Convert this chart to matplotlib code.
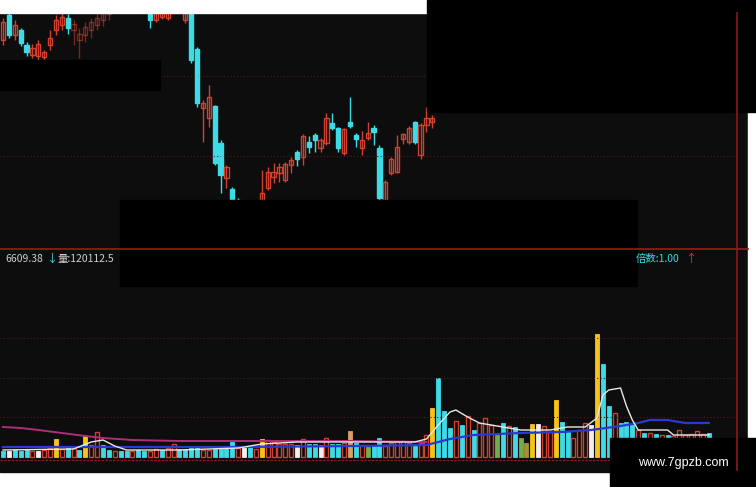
import matplotlib.pyplot as plt
from matplotlib.patches import Rectangle

# candles (price units), index = trading day
opens = [30.8, 33.3, 31.3, 31.8, 30.3, 29.3, 29.2, 29.1, 30.3, 31.8, 32.3, 33.0, 31.8, 30.8, 31.3, 31.8,
         32.3, 32.8, 33.4, 34.2, 34.8, 34.4, 35.0, 35.6, 34.8, 33.7, 32.8, 33.1, 33.0, 34.0, 34.9, 32.8,
         33.7, 29.9, 24.0, 23.0, 24.2, 20.5, 17.0, 15.9, 14.8, 13.0, 13.9, 12.8, 14.6, 16.0, 17.1, 17.5,
         16.8, 18.3, 19.6, 19.1, 20.6, 21.3, 20.0, 20.5, 22.5, 22.0, 19.5, 22.6, 21.3, 20.0, 21.0, 22.0,
         20.0, 14.8, 17.5, 17.6, 20.9, 20.6, 22.6, 19.3, 22.3, 22.6]
highs = [33.0, 33.5, 32.8, 32.0, 30.6, 30.4, 30.8, 29.8, 31.8, 33.3, 33.5, 33.4, 32.8, 32.0, 32.6, 33.0,
         33.4, 34.0, 34.4, 35.0, 35.2, 35.4, 35.8, 35.9, 35.3, 34.0, 34.0, 34.2, 34.3, 35.0, 35.1, 34.2,
         34.0, 30.1, 24.8, 26.3, 24.3, 20.8, 18.3, 16.1, 15.0, 14.2, 14.0, 14.6, 17.8, 18.1, 18.5, 18.5,
         18.6, 19.1, 19.8, 21.4, 21.2, 21.5, 21.0, 23.5, 23.5, 22.1, 22.0, 25.1, 21.5, 21.7, 22.6, 22.3,
         20.3, 16.8, 19.1, 21.3, 21.5, 22.2, 22.7, 22.5, 24.1, 23.3]
lows = [30.3, 31.0, 30.8, 30.2, 29.2, 29.0, 28.8, 28.8, 29.8, 31.3, 31.8, 31.4, 30.3, 29.0, 30.6, 31.0,
        31.8, 32.2, 32.8, 33.9, 34.2, 34.1, 34.8, 34.6, 34.5, 32.0, 32.6, 32.9, 32.8, 33.8, 33.7, 32.5,
        28.5, 24.1, 20.6, 22.1, 18.3, 15.5, 16.0, 14.5, 12.5, 12.6, 12.2, 12.4, 14.3, 15.8, 16.5, 16.6,
        16.6, 17.5, 18.2, 18.3, 19.5, 19.6, 19.6, 20.3, 21.8, 19.6, 19.3, 22.0, 20.1, 19.3, 20.8, 20.3,
        14.8, 14.7, 17.3, 17.5, 20.4, 20.4, 20.4, 18.9, 21.6, 22.0]
closes = [32.6, 31.3, 32.3, 30.5, 29.6, 30.0, 30.4, 29.6, 31.0, 32.8, 33.1, 32.0, 32.4, 31.4, 32.1, 32.6,
          33.0, 33.6, 34.0, 34.7, 34.4, 35.1, 35.5, 34.9, 35.0, 32.8, 33.8, 34.0, 33.9, 34.8, 33.9, 33.9,
          28.8, 24.5, 24.5, 25.1, 18.5, 17.3, 18.1, 14.9, 13.0, 13.8, 12.6, 14.3, 15.5, 17.6, 17.6, 18.1,
          18.4, 18.8, 18.9, 21.2, 20.1, 20.8, 20.8, 23.0, 22.0, 20.0, 21.9, 22.2, 20.9, 20.8, 21.5, 21.6,
          15.0, 16.6, 18.9, 20.1, 21.4, 22.0, 20.6, 22.3, 23.0, 23.0]

# volume (thousand lots) and bar colour code, ten days per row
volume = [6, 6, 7, 6, 7, 6, 6, 7, 9, 18,
          8, 10, 9, 7, 21, 12, 25, 12, 7, 6,
          6, 6, 6, 7, 6, 6, 8, 7, 9, 13,
          8, 8, 11, 11, 7, 7, 8, 8, 9, 15,
          9, 11, 10, 8, 18, 17, 15, 13, 13, 13,
          12, 18, 13, 13, 12, 19, 13, 13, 14, 26,
          14, 12, 10, 11, 19, 11, 14, 16, 16, 14,
          12, 14, 22, 49, 79, 46, 29, 36, 32, 41,
          27, 34, 39, 32, 22, 34, 31, 30, 19, 14,
          33, 33, 31, 25, 57, 35, 25, 19, 27, 34,
          32, 123, 93, 51, 44, 34, 35, 32, 27, 24,
          24, 23, 22, 22, 21, 27, 22, 23, 26, 23,
          24]
vol_kind = list("cwcccrwrrY" "rcrcYrrccr" "ccrccrrcrr" "ccccrrcccc" "rwcrYrrrrr"
                "wrccwrccrt" "crgccrrrrr" "crrYcccrcr" "crrrgcrcgo" "YwrrYccrrr"
                "wYccrcccrc" "rcrcrrrrrr" "c")

# volume moving averages (index, value)
ma5_idx = [0, 12, 15, 17, 19, 21, 30, 40, 44, 50, 60, 70, 72, 73, 74, 76, 77, 79, 81, 83, 85, 88, 93, 96,
           99, 101, 102, 103, 105, 106, 107, 108, 113, 114, 120]
ma5_val = [7, 8, 15, 17, 11, 7, 7, 9, 13, 15, 15, 15, 18, 25, 32, 45, 47, 40, 34, 32, 30, 27, 27, 30,
           30, 39, 62, 67, 69, 51, 37, 27, 27, 22, 22]
ma10_idx = [0, 20, 40, 60, 72, 76, 80, 88, 95, 100, 105, 108, 110, 113, 116, 120]
ma10_val = [10, 10, 10, 11, 12, 18, 22, 24, 25, 27, 31, 34, 37, 37, 34, 34]
ma20_idx = [0, 3, 6, 10, 14, 17, 22, 30, 40, 50, 60, 72]
ma20_val = [30, 29, 27, 24, 21, 19, 17, 16, 16, 16, 16, 15]

BG = '#0d0d0d'
RED = '#d2402f'
CYAN = '#3cdbe6'
kind_color = {'c': CYAN, 'w': '#f2eeee', 'Y': '#f5c41c', 'g': '#6fae4a', 'o': '#a09236', 't': '#d8a066'}

W, H = 756, 487
fig = plt.figure(figsize=(W / 100, H / 100), dpi=100, facecolor='white')

# background panel
bg = fig.add_axes([0, 0, 1, 1], zorder=0)
bg.set_xlim(0, W)
bg.set_ylim(H, 0)
bg.axis('off')
bg.add_patch(Rectangle((0, 13), 748, 459, color=BG))

x0, x1 = -0.51, 124.8
right = 737 / W

# price panel
ax1 = fig.add_axes([0, 1 - 248 / H, right, 235 / H], zorder=1)
ax1.set_facecolor('none')
ax1.set_xlim(x0, x1)
ax1.set_ylim(10.0, 33.5)
ax1.axis('off')
for g in (27.2, 19.2):
    ax1.axhline(g, color='#5a1a1a', lw=0.8, ls=(0, (1, 2)))
for i in range(len(opens)):
    up = closes[i] >= opens[i]
    col = RED if up else CYAN
    a = 0.55 if 12 <= i <= 18 else 1.0
    ax1.vlines(i, lows[i], highs[i], color=col, lw=1.0, alpha=a)
    lo = min(opens[i], closes[i])
    hgt = max(abs(closes[i] - opens[i]), 0.08)
    ax1.bar(i, hgt, bottom=lo, width=0.72, color=BG if up else col,
            edgecolor=col, linewidth=1.0, alpha=a)

# volume panel
ax2 = fig.add_axes([0, 1 - 470 / H, right, 180 / H], zorder=1)
ax2.set_facecolor('none')
ax2.set_xlim(x0, x1)
ax2.set_ylim(-13, 167)
ax2.axis('off')
for g in (119, 79, 40):
    ax2.axhline(g, color='#5a1a1a', lw=0.8, ls=(0, (1, 2)))
ax2.axhline(-3, color='#8a1c1c', lw=0.9, ls=(0, (2, 1)))
for i, v in enumerate(volume):
    k = vol_kind[i]
    if k == 'r':
        ax2.bar(i, v, width=0.68, color=BG, edgecolor=RED, linewidth=1.0)
    else:
        ax2.bar(i, v, width=0.68, color=kind_color[k], edgecolor=kind_color[k], linewidth=0.6)
ax2.plot(ma20_idx, ma20_val, color='#b02e78', lw=1.4)
ax2.plot(ma10_idx, ma10_val, color='#2a3ad0', lw=1.6)
ax2.plot(ma5_idx, ma5_val, color='#e8e8e8', lw=1.0)

# overlay: separators, labels, masks
top = fig.add_axes([0, 0, 1, 1], zorder=3)
top.set_facecolor('none')
top.set_xlim(0, W)
top.set_ylim(H, 0)
top.axis('off')
top.plot([0, 748], [248.5, 248.5], color='#a01818', lw=1.2)
top.plot([737, 737], [13, 470], color='#8b1a1a', lw=1.2)
top.add_patch(Rectangle((0, 0), 427, 13, color='white'))
top.add_patch(Rectangle((748, 112), 8, 326, color='white'))

fonts = ['Noto Sans CJK SC', 'DejaVu Sans']
top.text(5, 259, '6609.38', color='#cfcfcf', fontsize=7.5, va='center', family=fonts)
top.text(46, 259, '↓', color=CYAN, fontsize=8, va='center', family=fonts)
top.text(58, 259, '量:120112.5', color='#cfcfcf', fontsize=7.5, va='center', family=fonts)
top.text(636, 259, '倍数:1.00', color=CYAN, fontsize=7.5, va='center', family=fonts)
top.text(685, 259, '↑', color=RED, fontsize=8, va='center', family=fonts)

for (bx, by, bw, bh) in [(0, 60, 160, 30), (120, 200, 517, 86), (427, 0, 329, 112), (610, 438, 146, 49)]:
    top.add_patch(Rectangle((bx, by), bw, bh, color='black'))
top.text(683, 463, 'www.7gpzb.com', color='white', fontsize=9, ha='center', va='center',
         family='Liberation Sans')

fig.savefig('out.png', dpi=100, facecolor='white')
